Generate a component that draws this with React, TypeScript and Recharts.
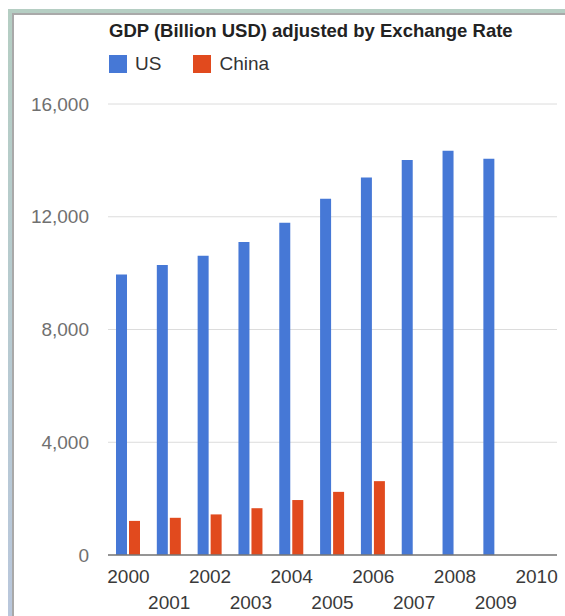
import { BarChart, Bar, XAxis, YAxis, CartesianGrid } from "recharts";

// ─── Data ────────────────────────────────────────────────────────────────────

const years = ["2000", "2001", "2002", "2003", "2004", "2005", "2006", "2007", "2008", "2009", "2010"];
const usGdp = [9950, 10290, 10620, 11100, 11790, 12640, 13390, 14010, 14340, 14060, null];
const chinaGdp = [1210, 1320, 1440, 1660, 1950, 2240, 2620, null, null, null, null];
const yTicks = [0, 4000, 8000, 12000, 16000];

const series = [
	{ key: "us", name: "US", color: "#4678d6" },
	{ key: "china", name: "China", color: "#e14a1e" },
];

const chartData = years.map((year, i) => ({ year, us: usGdp[i], china: chinaGdp[i] }));

// ─── Styles ──────────────────────────────────────────────────────────────────

const font = "'Liberation Sans', Arial, sans-serif";
const W = 565;
const H = 616;

function YearTick({ x, y, payload, index }: any) {
	// alternate rows so the wide labels don't collide
	const dy = index % 2 === 0 ? 27.5 : 53.5;
	return (
		<text x={x} y={y + dy} textAnchor="middle" fontFamily={font} fontSize={19} fill="#3a3a3a">
			{payload.value}
		</text>
	);
}

export default function App() {
	return (
		<div style={{ position: "fixed", left: 0, top: 0, width: W, height: H, overflow: "hidden", background: "#fff" }}>
			{/* window frame */}
			<div
				style={{
					position: "absolute",
					left: 8,
					top: 9,
					right: 0,
					bottom: 0,
					background: "linear-gradient(to bottom, #b5cec3, #b9c7dc)",
				}}
			>
				<div
					style={{
						position: "absolute",
						left: 4,
						top: 4,
						right: 0,
						bottom: 0,
						background: "#fff",
						borderTop: "2px solid #a9a9a9",
						borderLeft: "2px solid #a9a9a9",
					}}
				/>
			</div>

			{/* title + legend */}
			<div
				style={{
					position: "absolute",
					left: 109,
					top: 22,
					fontFamily: font,
					fontSize: 18.5,
					lineHeight: "18.5px",
					fontWeight: 700,
					color: "#222",
					whiteSpace: "nowrap",
				}}
			>
				GDP (Billion USD) adjusted by Exchange Rate
			</div>
			<div style={{ position: "absolute", left: 109, top: 54, display: "flex", alignItems: "center", fontFamily: font, fontSize: 19, color: "#333" }}>
				{series.map((s) => (
					<div key={s.key} style={{ display: "flex", alignItems: "center", marginRight: 32 }}>
						<div style={{ width: 18, height: 18, background: s.color, marginRight: 8 }} />
						<span style={{ lineHeight: "19px" }}>{s.name}</span>
					</div>
				))}
			</div>

			<div style={{ position: "absolute", left: 0, top: 0 }}>
				<BarChart
					width={W}
					height={H}
					data={chartData}
					margin={{ top: 104, right: 8, bottom: 0, left: 0 }}
					barSize={11}
					barGap={2}
				>
					<CartesianGrid horizontal vertical={false} stroke="#dcdcdc" strokeWidth={1} />
					<XAxis
						dataKey="year"
						height={61}
						interval={0}
						tickLine={false}
						tickSize={0}
						tickMargin={0}
						axisLine={{ stroke: "#777", strokeWidth: 1.5 }}
						tick={<YearTick />}
					/>
					<YAxis
						width={108}
						domain={[0, 16000]}
						ticks={yTicks}
						axisLine={false}
						tickLine={false}
						tickSize={0}
						tickMargin={19}
						tickFormatter={(v: number) => v.toLocaleString("en-US")}
						tick={{ fontFamily: font, fontSize: 19, fill: "#707070" }}
					/>
					{series.map((s) => (
						<Bar key={s.key} dataKey={s.key} name={s.name} fill={s.color} isAnimationActive={false} />
					))}
				</BarChart>
			</div>
		</div>
	);
}
